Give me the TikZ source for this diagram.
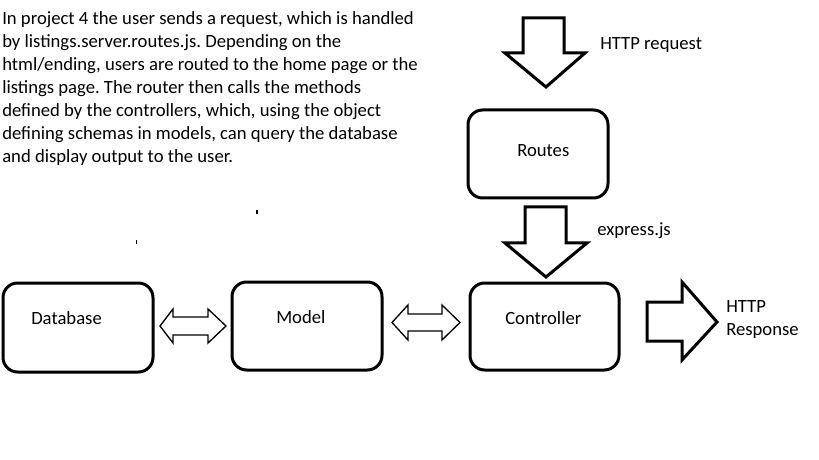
\documentclass[tikz,border=0pt]{standalone}
\usepackage{fontspec}
\setmainfont{Carlito}
\frenchspacing
\begin{document}
\begin{tikzpicture}[x=0.75pt,y=-0.75pt,
  box/.style={draw,line width=2.25pt,rounded corners=11pt,inner sep=0pt},
  blockarrow/.style={draw,line width=2.25pt,line join=miter},
  thinarrow/.style={draw,line width=1pt,line join=miter},
  lbl/.style={font=\fontsize{14pt}{17.25pt}\selectfont,inner sep=0pt,anchor=base west}]
\useasboundingbox (0,0) rectangle (819,460);

% paragraph
\node[lbl,anchor=north west,align=left] (para) at (2,11)
{In project 4 the user sends a request, which is handled\\
by listings.server.routes.js. Depending on the\\
html/ending, users are routed to the home page or the\\
listings page. The router then calls the methods\\
defined by the controllers, which, using the object\\
defining schemas in models, can query the database\\
and display output to the user.};

% boxes
\node[box,minimum width=105pt,minimum height=66pt] (routes) at (538,154) {};
\node[box,minimum width=111.75pt,minimum height=65.25pt] (controller) at (544.5,326.5) {};
\node[box,minimum width=112.5pt,minimum height=66.75pt] (database) at (78,327.5) {};
\node[box,minimum width=112.5pt,minimum height=66pt] (model) at (307,326) {};

% box labels
\node[lbl] (routestxt) at (517,157) {Routes};
\node[lbl] (controllertxt) at (505,325) {Controller};
\node[lbl] (databasetxt) at (31,325) {Database};
\node[lbl] (modeltxt) at (276,323) {Model};

% other labels
\node[lbl] (httpreq) at (600,50) {HTTP request};
\node[lbl] (express) at (597,235) {express.js};
\node[lbl,align=left,anchor=north west] (httpresp) at (726,300) {HTTP\\Response};

% block arrows
\draw[blockarrow] (523,18) -- (564,18) -- (564,53) -- (585,53) -- (546,87) -- (505,53) -- (523,53) -- cycle;
\draw[blockarrow] (525,207) -- (566,207) -- (566,243) -- (587,243) -- (546,277) -- (505,243) -- (525,243) -- cycle;
\draw[blockarrow] (647,302) -- (682,302) -- (682,282) -- (717,322) -- (682,360) -- (682,341) -- (647,341) -- cycle;

% double arrows
\draw[thinarrow] (160,326) -- (173,309) -- (173,317) -- (208,317) -- (208,309) -- (226,326) -- (208,343) -- (208,335) -- (173,335) -- (173,343) -- cycle;
\draw[thinarrow] (392,322.5) -- (408,305) -- (408,314) -- (442,314) -- (442,305) -- (460,322.5) -- (442,340) -- (442,331) -- (408,331) -- (408,340) -- cycle;

% stray ticks
\draw[line width=0.9pt] (257,210) -- (257,214);
\draw[line width=0.9pt] (136.5,240.5) -- (136.5,244);
\end{tikzpicture}
\end{document}
